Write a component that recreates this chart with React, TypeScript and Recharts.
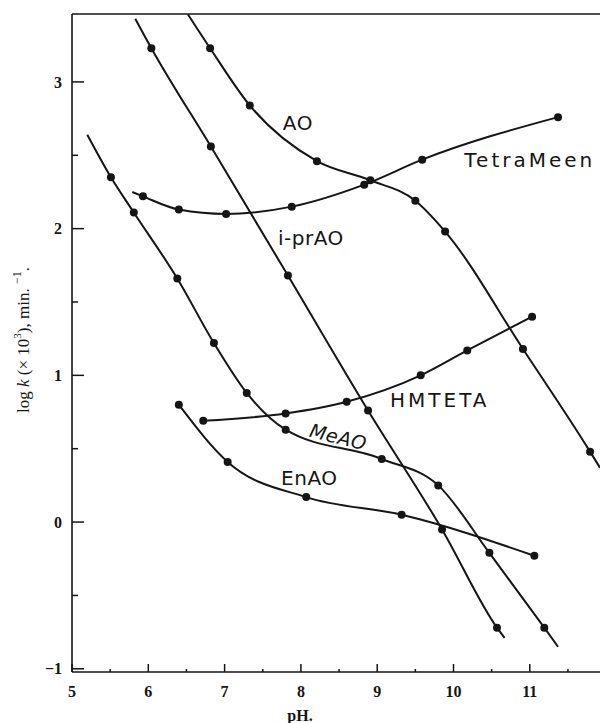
import { ComposedChart, Line, XAxis, YAxis, ReferenceLine, ReferenceDot } from 'recharts';

const aoPh = [6.81, 7.33, 8.21, 8.91, 9.5, 9.89, 10.91, 11.79];
const aoLog = [3.23, 2.84, 2.46, 2.33, 2.19, 1.98, 1.18, 0.48];

const tetraPh = [5.93, 6.4, 7.02, 7.88, 8.83, 9.59, 11.37];
const tetraLog = [2.22, 2.13, 2.1, 2.15, 2.3, 2.47, 2.76];

const iprPh = [6.04, 6.82, 7.83, 8.88, 9.85, 10.57];
const iprLog = [3.23, 2.56, 1.68, 0.76, -0.05, -0.72];

const hmPh = [6.72, 7.8, 8.6, 9.57, 10.18, 11.03];
const hmLog = [0.69, 0.74, 0.82, 1.0, 1.17, 1.4];

const mePh = [5.51, 5.81, 6.38, 6.86, 7.29, 7.8, 9.06, 9.8, 10.47, 11.19];
const meLog = [2.35, 2.11, 1.66, 1.22, 0.88, 0.63, 0.43, 0.25, -0.21, -0.72];

const enPh = [6.4, 7.04, 8.07, 9.32, 11.06];
const enLog = [0.8, 0.41, 0.17, 0.05, -0.23];

// where the drawn curves run past the first / last point
const aoEnds = [[6.52, 3.46], [11.92, 0.37]];
const tetraEnds = [[5.79, 2.25], null];
const iprEnds = [[5.83, 3.43], [10.67, -0.79]];
const meEnds = [[5.2, 2.64], [11.37, -0.85]];

const labelText = ['AO', 'TetraMeen', 'i-prAO', 'HMTETA', 'MeAO', 'EnAO'];
const labelPh = [7.96, 11.0, 8.13, 9.82, 8.49, 8.11];
const labelLog = [2.72, 2.47, 1.94, 0.83, 0.58, 0.3];

const xTicks = [5, 5.5, 6, 6.5, 7, 7.5, 8, 8.5, 9, 9.5, 10, 10.5, 11, 11.5];
const yTicks = [-1, -0.5, 0, 0.5, 1, 1.5, 2, 2.5, 3];

const build = (ph: number[], lk: number[], ends?: any[]) => {
  const rows = ph.map((p, i) => ({ ph: p, v: lk[i], m: true }));
  if (ends && ends[0]) rows.unshift({ ph: ends[0][0], v: ends[0][1], m: false });
  if (ends && ends[1]) rows.push({ ph: ends[1][0], v: ends[1][1], m: false });
  return rows;
};

const series = [
  build(aoPh, aoLog, aoEnds),
  build(tetraPh, tetraLog, tetraEnds),
  build(iprPh, iprLog, iprEnds),
  build(hmPh, hmLog),
  build(mePh, meLog, meEnds),
  build(enPh, enLog),
];

const INK = '#151515';
const tickFont = { fontFamily: 'Liberation Serif', fontWeight: 700, fontSize: 16, fill: INK };

const renderDot = (p: any) =>
  p.payload.m ? (
    <circle key={`d${p.index}`} cx={p.cx} cy={p.cy} r={4} fill={INK} />
  ) : (
    <g key={`d${p.index}`} />
  );

const XTick = (p: any) => {
  const v = p.payload.value;
  const major = Number.isInteger(v);
  const y0 = p.y - 25;
  return (
    <g>
      <line x1={p.x} x2={p.x} y1={y0} y2={y0 - (major ? 8 : 3)} stroke={INK} strokeWidth={1.5} />
      {major && (
        <text x={p.x} y={p.y} textAnchor="middle" {...tickFont}>
          {v}
        </text>
      )}
    </g>
  );
};

const YTick = (p: any) => {
  const v = p.payload.value;
  const major = Number.isInteger(v);
  const x0 = p.x + 10;
  return (
    <g>
      <line x1={x0} x2={x0 + (major ? 12 : 6)} y1={p.y} y2={p.y} stroke={INK} strokeWidth={1.5} />
      {major && (
        <text x={p.x} y={p.y} dy="0.35em" textAnchor="end" {...tickFont}>
          {v < 0 ? `\u2212${-v}` : v}
        </text>
      )}
    </g>
  );
};

const YLabel = (p: any) => {
  const vb = p.viewBox;
  const cx = vb.x + 23;
  const cy = vb.y + vb.height / 2 - 3;
  return (
    <text
      x={cx}
      y={cy}
      transform={`rotate(-90 ${cx} ${cy})`}
      textAnchor="middle"
      dominantBaseline="central"
      fontFamily="Liberation Serif"
      fontSize={17}
      fill={INK}
    >
      log <tspan fontStyle="italic">k</tspan> (× 10<tspan dy={-6} fontSize={11}>3</tspan>
      <tspan dy={6}>), min. </tspan>
      <tspan dy={-6} fontSize={12}>−1</tspan>
      <tspan dy={6}>.</tspan>
    </text>
  );
};

const curveLabel = (i: number) => (p: any) => {
  const it = labelText[i] === 'MeAO';
  return (
    <text
      x={p.cx}
      y={p.cy}
      dy="0.36em"
      textAnchor="middle"
      transform={it ? `rotate(14 ${p.cx} ${p.cy})` : undefined}
      fontFamily="DejaVu Sans"
      fontSize={it ? 19 : 20}
      fontStyle={it ? 'italic' : 'normal'}
      fontWeight={it ? 300 : 400}
      letterSpacing={labelText[i] === 'TetraMeen' ? 3 : labelText[i] === 'HMTETA' ? 3 : 0.5}
      fill={INK}
    >
      {labelText[i]}
    </text>
  );
};

export default function App() {
  return (
    <div style={{ position: 'absolute', left: 0, top: 0, background: '#fff' }}>
      <ComposedChart width={600} height={723} margin={{ top: 14, right: 0, left: 0, bottom: 0 }}>
        <XAxis
          type="number"
          dataKey="ph"
          domain={[5, 11.92]}
          allowDataOverflow
          ticks={xTicks}
          interval={0}
          height={51}
          tickSize={0}
          tickMargin={25}
          tickLine={false}
          tick={<XTick />}
          axisLine={{ stroke: INK, strokeWidth: 1.6 }}
          label={{
            value: 'pH.',
            position: 'insideBottom',
            offset: 2,
            dx: -36,
            fontFamily: 'Liberation Serif',
            fontWeight: 700,
            fontSize: 16,
            fill: INK,
          }}
        />
        <YAxis
          type="number"
          domain={[-1.022, 3.463]}
          allowDataOverflow
          ticks={yTicks}
          interval={0}
          width={72}
          tickSize={0}
          tickMargin={10}
          tickLine={false}
          tick={<YTick />}
          axisLine={{ stroke: INK, strokeWidth: 1.6 }}
          label={{ content: <YLabel /> }}
        />
        <ReferenceLine y={3.463} stroke={INK} strokeWidth={1.6} />
        {series.map((d, i) => (
          <Line
            key={i}
            data={d}
            dataKey="v"
            type="monotone"
            stroke={INK}
            strokeWidth={2}
            dot={renderDot}
            activeDot={false}
            isAnimationActive={false}
          />
        ))}
        {labelText.map((t, i) => (
          <ReferenceDot
            key={t}
            x={labelPh[i]}
            y={labelLog[i]}
            r={0}
            ifOverflow="visible"
            shape={curveLabel(i)}
          />
        ))}
      </ComposedChart>
    </div>
  );
}
